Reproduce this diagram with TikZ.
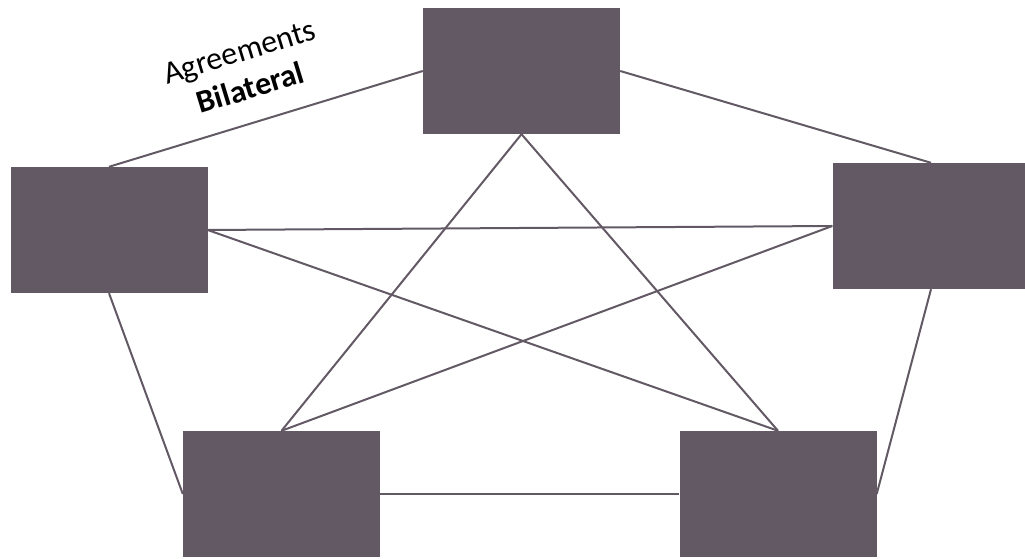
\documentclass[tikz,border=0pt]{standalone}
\usepackage{fontspec}
\setmainfont{Carlito}
\definecolor{boxgray}{RGB}{99,89,101}
\begin{document}
\begin{tikzpicture}[x=1pt,y=1pt,
  box/.style={draw=none,fill=boxgray,minimum width=197pt,minimum height=126pt,inner sep=0pt},
  every edge/.style={draw=boxgray,line width=2pt}]
  \useasboundingbox (0,0) rectangle (1025,559);
  \node[box] (T) at (521.5,488) {};
  \node[box] (L) at (109,329) {};
  \node[box] (R) at (931,333) {};
  \node[box] (BL) at (281.5,65) {};
  \node[box] (BR) at (778,65) {};
  \path (L.north) edge (T.west);
  \path (T.east) edge (R.north);
  \path (L.east) edge (R.west);
  \path (L.east) edge (BR.north);
  \path (R.west) edge (BL.north);
  \path (T.south) edge (BL.north);
  \path (T.south) edge (BR.north);
  \path (L.south) edge (BL.west);
  \path (R.south) edge (BR.east);
  \path (BL.east) edge (BR.west);
  \node[rotate=17,align=center,font=\fontsize{32}{38}\selectfont] (lbl) at (245,489) {Agreements\\\textbf{Bilateral}};
\end{tikzpicture}
\end{document}
